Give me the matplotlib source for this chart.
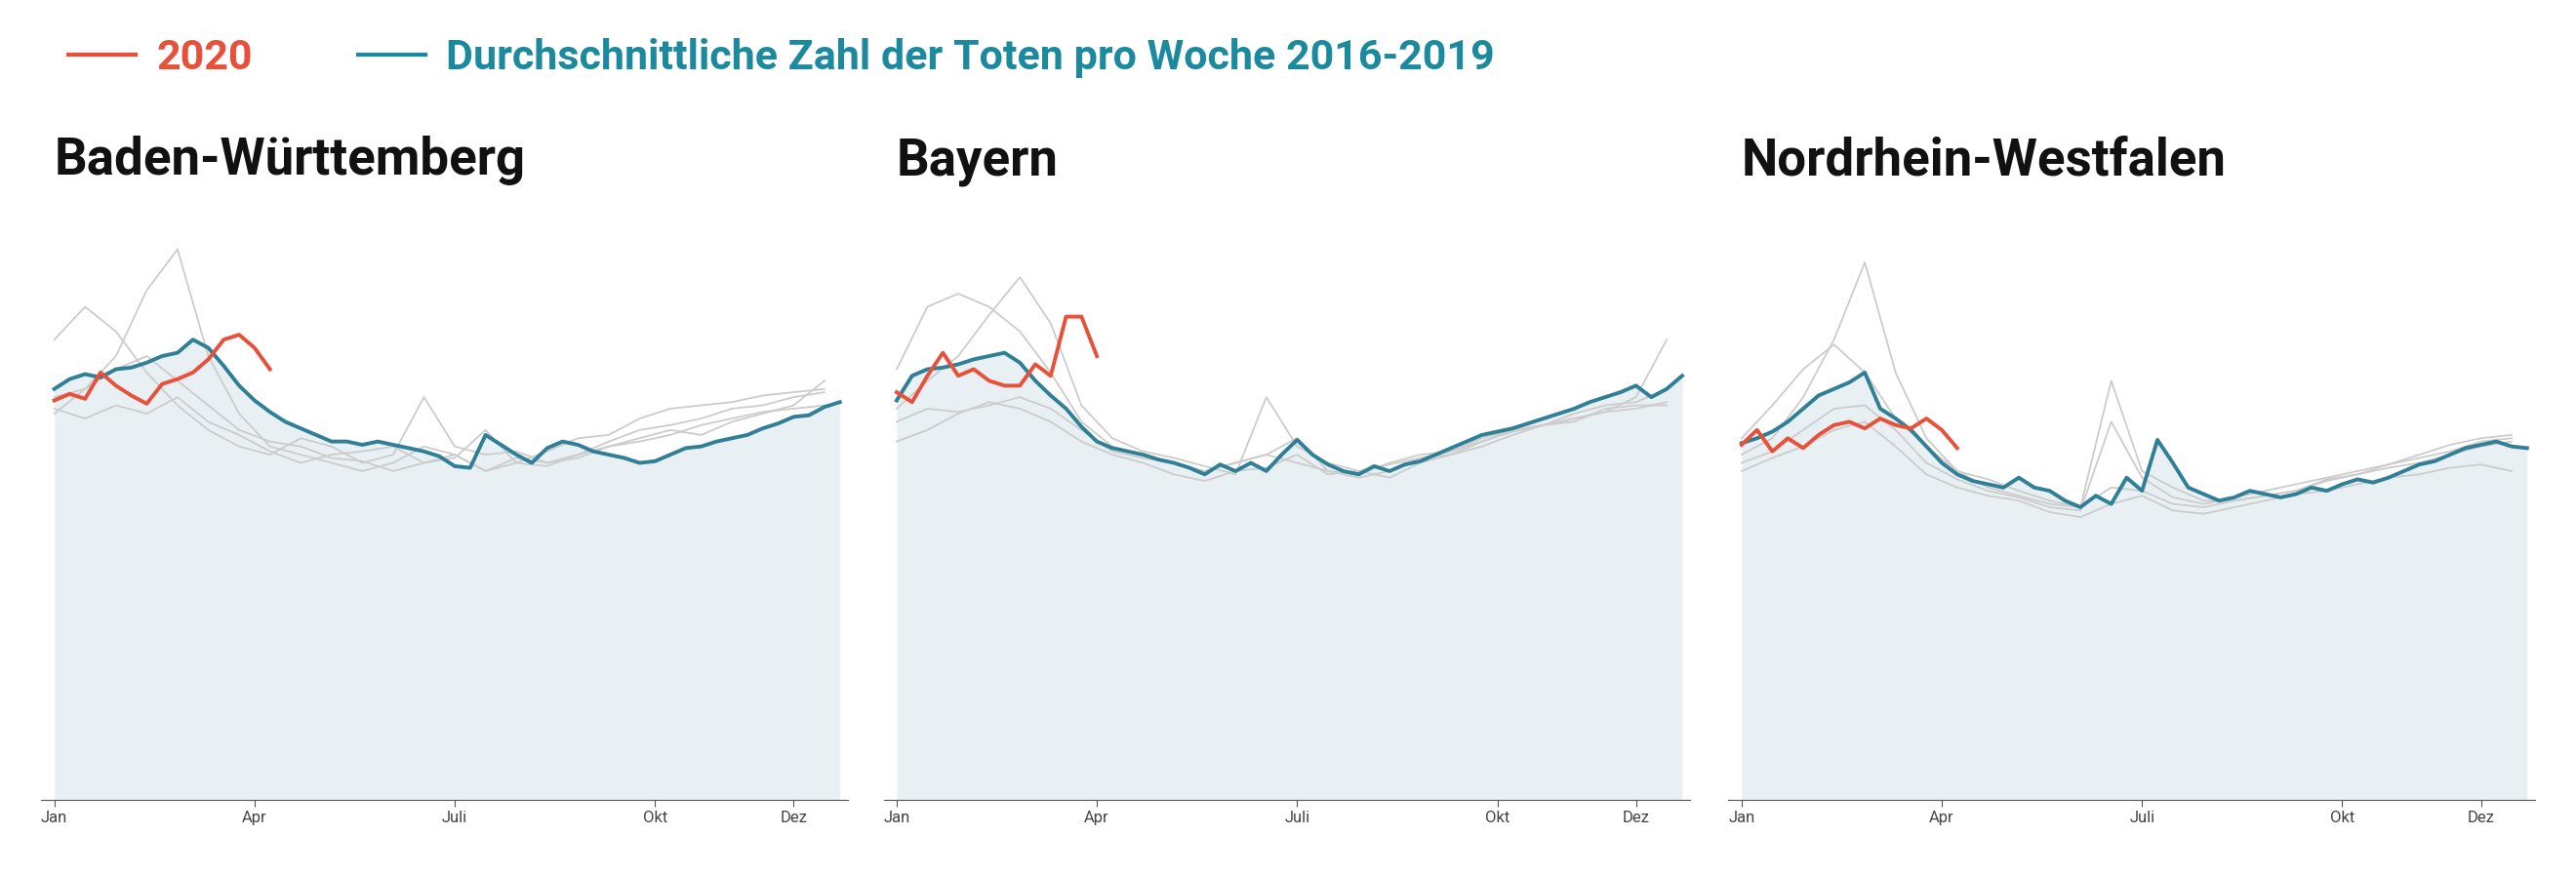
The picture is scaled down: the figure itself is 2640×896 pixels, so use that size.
import numpy as np
import matplotlib
matplotlib.use('Agg')
import matplotlib.pyplot as plt
from matplotlib.lines import Line2D

plt.rcParams['font.family'] = ['Roboto', 'DejaVu Sans']

# weekly deaths (relative units), weeks 1..52
weeks = np.arange(1, 53)
gray_weeks = np.arange(1, 53, 2)

states = ['Baden-Württemberg', 'Bayern', 'Nordrhein-Westfalen']

avg_bw = [250, 256, 259, 257, 262, 263, 266, 270, 272, 280, 275, 264, 252, 243, 236, 230,
          226, 222, 218, 218, 216, 218, 216, 214, 212, 209, 203, 202, 222, 216, 210, 205,
          214, 218, 216, 212, 210, 208, 205, 206, 210, 214, 215, 218, 220, 222, 226, 229,
          233, 234, 239, 242]
avg_by = [243, 258, 262, 263, 265, 268, 270, 272, 266, 255, 246, 238, 227, 218, 214, 212,
          210, 207, 205, 202, 198, 204, 200, 205, 200, 210, 219, 210, 204, 200, 198, 203,
          200, 204, 206, 210, 214, 218, 222, 224, 226, 229, 232, 235, 238, 242, 245, 248,
          252, 245, 250, 258]
avg_nrw = [217, 220, 224, 230, 238, 246, 250, 254, 260, 238, 232, 225, 215, 205, 198, 194,
           192, 190, 196, 190, 188, 182, 178, 185, 180, 196, 188, 219, 205, 190, 186, 182,
           184, 188, 186, 184, 186, 190, 188, 192, 195, 193, 196, 200, 204, 206, 210, 214,
           216, 218, 215, 214]

y2020_bw = [243, 247, 244, 260, 252, 246, 241, 253, 256, 260, 268, 280, 283, 275, 262]
y2020_by = [248, 242, 258, 272, 258, 262, 255, 252, 252, 265, 258, 294, 294, 270]
y2020_nrw = [216, 225, 212, 220, 214, 222, 228, 230, 226, 232, 228, 226, 232, 225, 214]

gray_bw = [
    [280, 300, 285, 260, 240, 225, 215, 210, 220, 215, 205, 210, 245, 215, 210, 212, 205, 208, 215, 220, 225, 222, 230, 235, 240, 255],
    [235, 250, 270, 310, 335, 270, 235, 215, 210, 205, 200, 205, 215, 210, 200, 205, 203, 210, 218, 225, 228, 232, 238, 240, 245, 248],
    [245, 250, 262, 270, 255, 240, 225, 218, 215, 208, 206, 200, 205, 208, 225, 205, 212, 220, 222, 232, 238, 240, 242, 246, 248, 250],
    [238, 232, 240, 235, 245, 230, 222, 212, 205, 210, 212, 215, 205, 210, 200, 208, 205, 210, 215, 218, 222, 228, 232, 236, 238, 240],
]
gray_by = [
    [262, 300, 308, 300, 285, 260, 230, 215, 210, 205, 200, 205, 210, 205, 200, 198, 205, 210, 212, 218, 224, 228, 232, 236, 245, 280],
    [238, 255, 270, 295, 318, 290, 240, 220, 212, 208, 203, 198, 245, 215, 205, 200, 196, 205, 210, 218, 225, 228, 235, 240, 242, 250],
    [230, 238, 236, 240, 245, 238, 225, 212, 208, 205, 200, 205, 210, 220, 200, 196, 200, 208, 212, 220, 225, 228, 230, 238, 240, 240],
    [218, 225, 235, 242, 238, 230, 218, 210, 205, 198, 194, 200, 202, 210, 198, 200, 204, 208, 210, 215, 222, 228, 232, 236, 238, 242],
]
gray_nrw = [
    [220, 240, 262, 277, 260, 232, 215, 200, 190, 185, 180, 178, 255, 200, 190, 182, 182, 185, 188, 195, 198, 202, 205, 210, 215, 218],
    [210, 220, 245, 280, 327, 260, 220, 200, 195, 188, 182, 178, 190, 188, 180, 178, 182, 185, 188, 194, 198, 204, 208, 212, 218, 220],
    [205, 212, 225, 238, 240, 225, 205, 195, 188, 184, 178, 176, 230, 196, 184, 180, 184, 188, 192, 196, 200, 204, 210, 216, 220, 222],
    [200, 208, 215, 225, 230, 215, 198, 190, 185, 182, 175, 172, 180, 185, 176, 174, 178, 182, 186, 188, 192, 196, 198, 202, 204, 200],
]

tick_weeks = [1, 14, 27, 40, 49]
tick_labels = ['Jan', 'Apr', 'Juli', 'Okt', 'Dez']

RED = '#e8503a'
TEAL = '#2f7f96'
LEGEND_TEAL = '#1b8a9e'
FILL = '#e9f0f3'

panels = [(avg_bw, y2020_bw, gray_bw), (avg_by, y2020_by, gray_by), (avg_nrw, y2020_nrw, gray_nrw)]
lefts = [0.016, 0.343, 0.671]

fig = plt.figure(figsize=(26.4, 8.96), dpi=100)

for left, name, (avg, y2020, grays) in zip(lefts, states, panels):
    ax = fig.add_axes([left, 0.085, 0.313, 0.658])
    ax.fill_between(weeks, 0, avg, color=FILL, lw=0)
    for g in grays:
        ax.plot(gray_weeks, g, color='#cccccc', lw=1.3)
    ax.plot(weeks, avg, color=TEAL, lw=2.8)
    ax.plot(weeks[:len(y2020)], y2020, color=RED, lw=2.8)
    ax.set_xlim(0.15, 52.5)
    ax.set_ylim(0, 350)
    for s in ['top', 'right', 'left']:
        ax.spines[s].set_visible(False)
    ax.spines['bottom'].set_color('#555555')
    ax.set_yticks([])
    ax.set_xticks(tick_weeks)
    ax.set_xticklabels(tick_labels, fontsize=12, color='#444444')
    ax.tick_params(axis='x', length=5, color='#555555', pad=3)
    fig.text(left + 0.005, 0.80, name, fontsize=38, fontweight='bold', color='#111111')

handles = [Line2D([], [], color=RED, lw=3), Line2D([], [], color=LEGEND_TEAL, lw=3)]
leg = fig.legend(handles, ['2020', 'Durchschnittliche Zahl der Toten pro Woche 2016-2019'],
                 loc='upper left', bbox_to_anchor=(0.012, 1.0), ncol=2, frameon=False,
                 fontsize=31, handlelength=1.6, columnspacing=2.5, handletextpad=0.5)
for t, c in zip(leg.get_texts(), [RED, LEGEND_TEAL]):
    t.set_color(c)
    t.set_fontweight('bold')

fig.savefig('out.png', dpi=100)
